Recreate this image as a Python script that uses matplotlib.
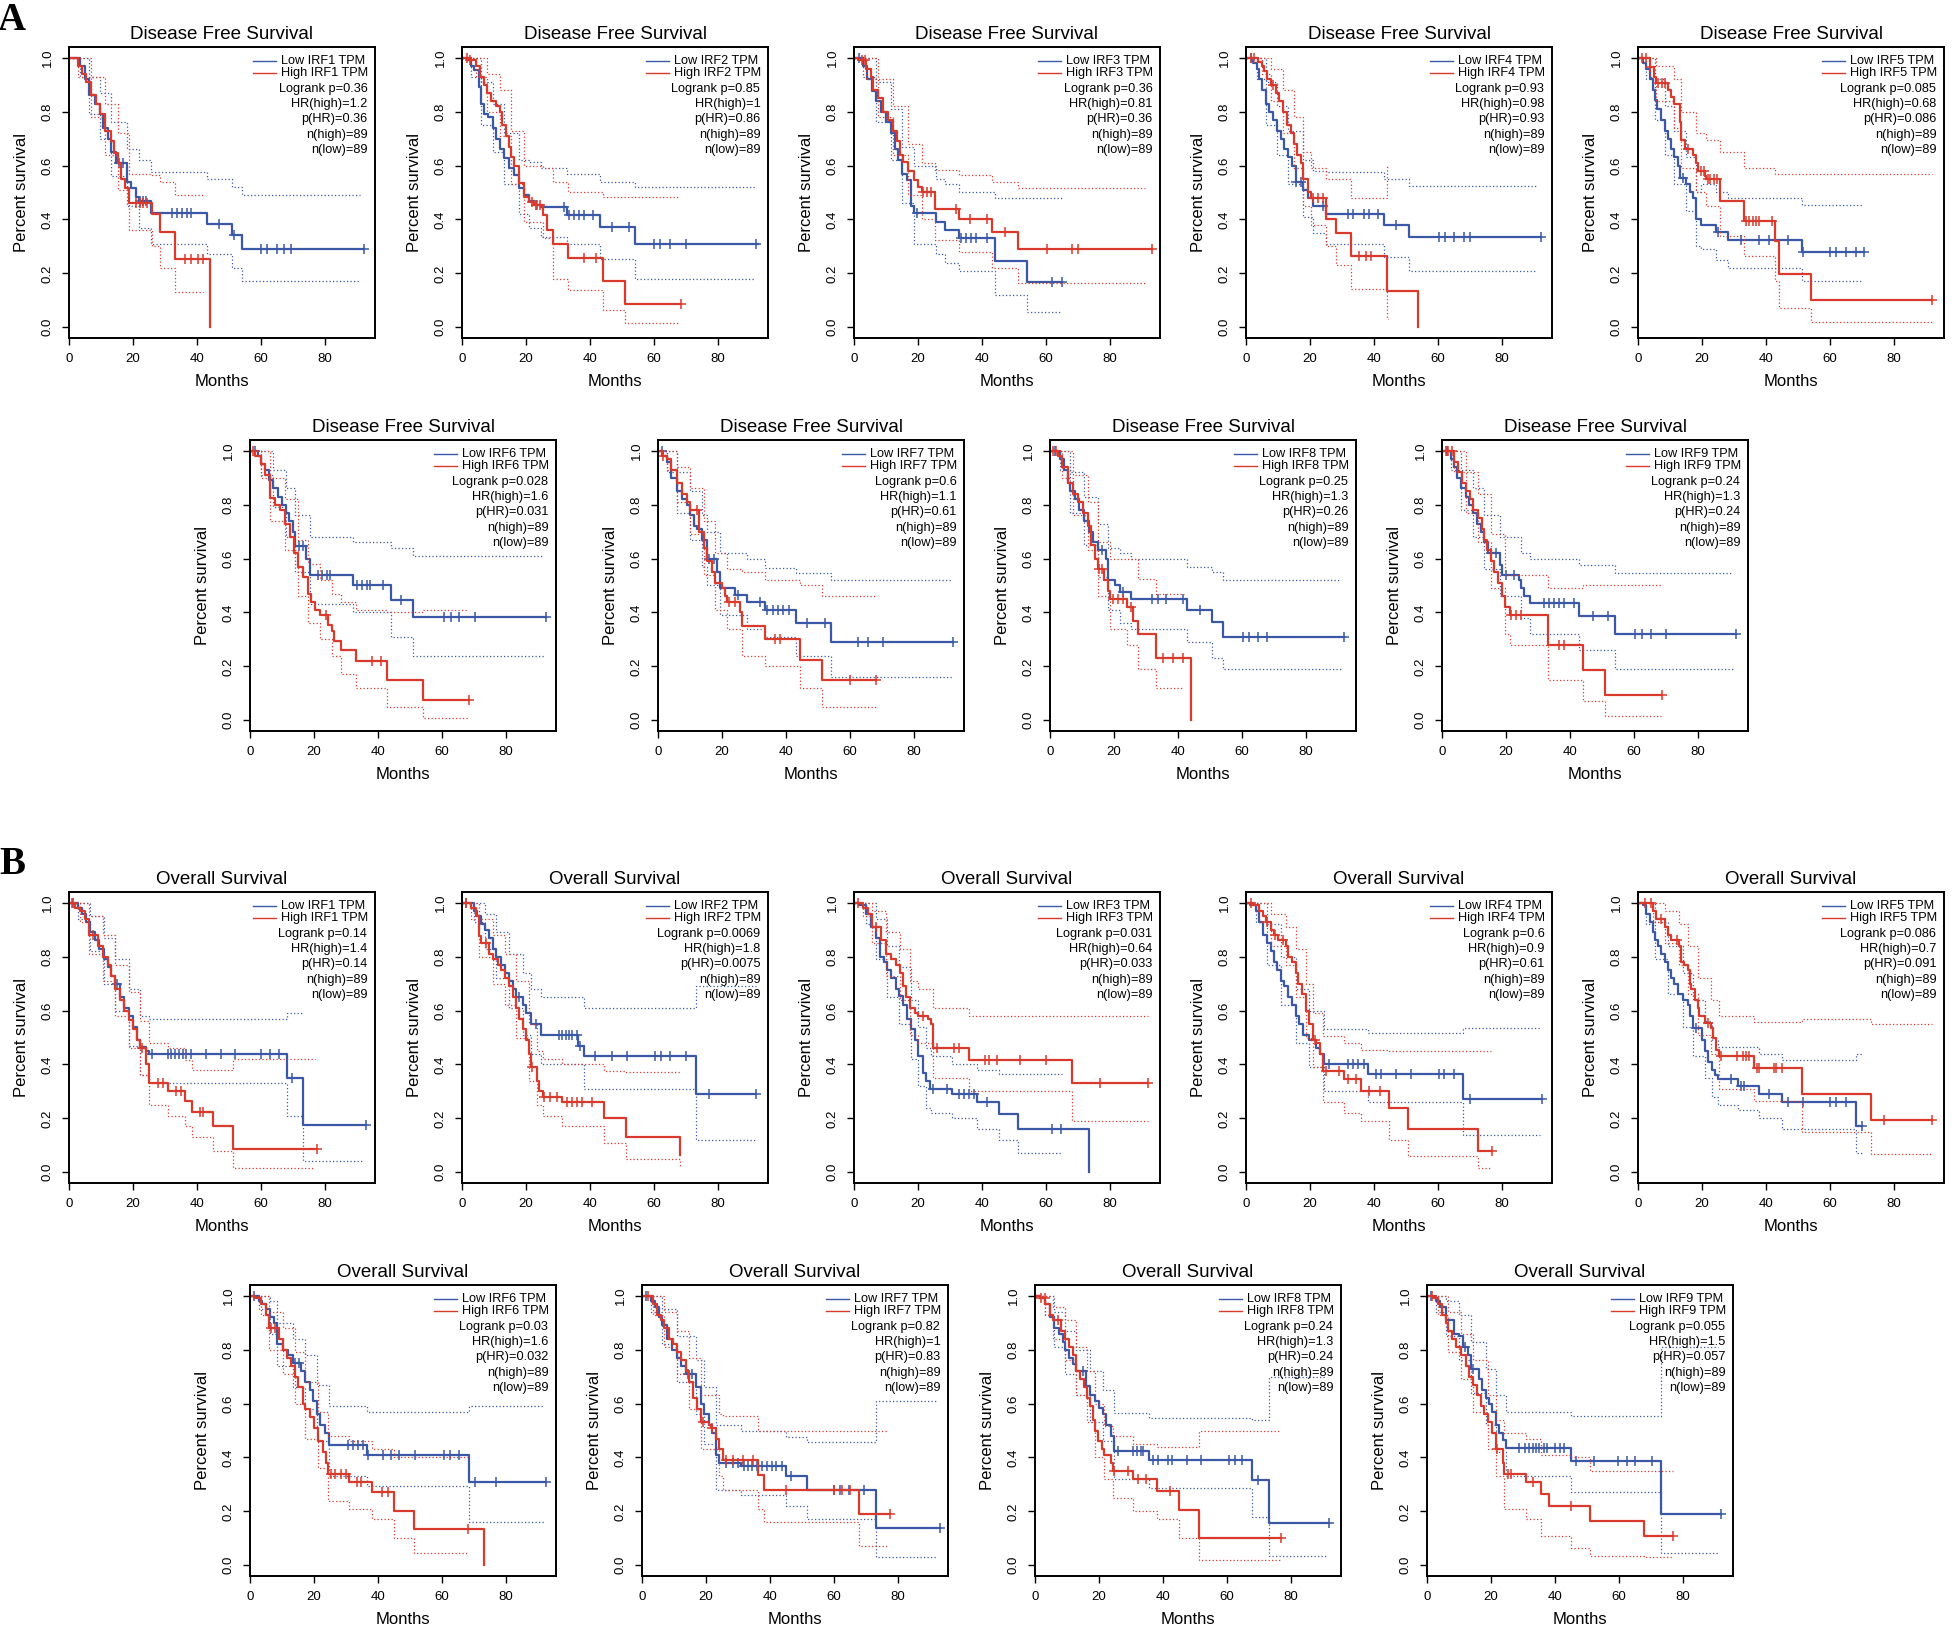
import numpy as np
import matplotlib
matplotlib.use('Agg')
import matplotlib.pyplot as plt
from matplotlib.lines import Line2D

nan = float('nan')

# ---------------- data ----------------
# each curve: (month, survival); CI: (month, lower, upper); censor months
A1_LOW = [(0,1),(3.5,.97),(5,.92),(6.3,.86),(8.2,.83),(9.7,.79),(10.5,.74),(12.1,.70),(13.2,.65),(14.8,.61),(18.2,.54),(19.5,.515),(20.8,.485),(22,.47),(25.5,.423),(43.1,.382),(50.9,.342),(54.1,.29),(92.3,.29)]
A1_LOW_CI = [(0,1,1),(3.5,.93,1),(6.3,.79,.93),(9.7,.70,.87),(13.2,.56,.76),(18.2,.45,.66),(22,.37,.62),(25.5,.31,.575),(43.1,.27,.55),(50.9,.22,.52),(54.1,.17,.49),(91,.17,.49)]
A1_LOW_CENS = [15.7,17,22.3,23.1,23.9,32.1,33.6,35.2,36.8,38,47,51.6,60.1,62,65.1,67.3,69.5,92.3]
A1_HIGH = [(0,1),(2.7,.97),(4.2,.94),(5.3,.91),(6.9,.86),(8.5,.83),(9.7,.79),(11.3,.73),(13.2,.69),(14.2,.645),(15.4,.61),(16.4,.55),(17.6,.515),(18.9,.46),(26,.42),(28.3,.355),(33,.252),(44,0)]
A1_HIGH_CI = [(0,1,1),(2.7,.93,1),(6.9,.78,.93),(11.3,.64,.83),(15.4,.51,.72),(18.9,.36,.57),(26,.30,.565),(28.3,.22,.54),(33,.13,.49),(42,.13,.49)]
A1_HIGH_CENS = [20.8,22.3,23.1,24.5,36.2,38.1,40.4,42]

A2_LOW = [(0,1),(2.8,.97),(3.9,.954),(5.2,.89),(6,.83),(6.8,.79),(8,.78),(9.6,.74),(10.7,.70),(11.8,.66),(13,.627),(14.6,.59),(16.2,.565),(17.8,.515),(19.3,.49),(20.9,.47),(22.5,.455),(24.8,.445),(32.7,.417),(43,.372),(54,.309),(92.5,.309)]
A2_LOW_CI = [(0,1,1),(2.8,.93,1),(6,.75,.91),(9.6,.65,.83),(13,.53,.72),(17.8,.42,.62),(20.9,.37,.614),(24.8,.336,.59),(32.7,.31,.57),(43,.255,.54),(54,.18,.52),(91.5,.18,.52)]
A2_LOW_CENS = [23,31.9,33.5,35,36.5,38,41,47,52.2,60,62,65,70,92]
A2_HIGH = [(0,1),(2,.99),(4.4,.97),(5.5,.93),(6.8,.90),(7.7,.87),(9.1,.84),(10.7,.82),(11.8,.80),(12.6,.75),(13.8,.71),(14.6,.67),(15.4,.63),(16.2,.60),(17.8,.534),(19.3,.485),(20.9,.466),(22.5,.455),(25.3,.417),(26.4,.36),(28.3,.31),(33,.258),(44,.173),(50.8,.088),(68.4,.088)]
A2_HIGH_CI = [(0,1,1),(4.4,.93,1),(7.7,.80,.94),(11.8,.71,.88),(15.4,.53,.73),(19.3,.39,.60),(25.3,.33,.59),(28.3,.18,.54),(33,.137,.50),(44,.064,.485),(50.8,.015,.485),(68,.015,.485)]
A2_HIGH_CENS = [1.5,2.5,22,23.5,24.5,38.1,42,68.4]

A3_LOW = [(0,1),(2.8,.97),(4.1,.92),(5.5,.875),(6.8,.84),(8.3,.80),(9.9,.76),(11.5,.72),(12.7,.66),(13.8,.62),(14.9,.57),(16.5,.545),(17.8,.45),(18.7,.425),(25.6,.39),(28.5,.36),(32.7,.33),(44.2,.246),(54.2,.166),(65,.166)]
A3_LOW_CI = [(0,1,1),(2.8,.93,1),(6.8,.76,.91),(11.5,.62,.81),(14.9,.46,.67),(18.7,.31,.60),(25.6,.27,.55),(28.5,.24,.53),(32.7,.21,.50),(44.2,.12,.48),(54.2,.055,.48),(65,.055,.48)]
A3_LOW_CENS = [1.5,19.7,33.5,35,36.5,38,41.4,62,65]
A3_HIGH = [(0,1),(1.3,.99),(3.6,.96),(5.2,.93),(6,.88),(7.5,.85),(9.1,.80),(10.7,.77),(12.3,.73),(13.4,.69),(14.3,.64),(15.4,.615),(17,.58),(18.6,.545),(20.1,.52),(21.2,.50),(25.2,.44),(32.9,.40),(43.2,.355),(51.3,.29),(93,.29)]
A3_HIGH_CI = [(0,1,1),(3.6,.92,1),(7.5,.78,.92),(12.3,.64,.82),(17,.49,.68),(21.2,.40,.61),(25.2,.325,.585),(32.9,.28,.565),(43.2,.22,.54),(51.3,.165,.515),(91,.165,.515)]
A3_HIGH_CENS = [2.5,3.5,21.7,22.8,24,31.9,36.2,41.4,47.2,60.2,68.1,70,93]

A4_LOW = [(0,1),(2.2,.98),(3.3,.96),(4.1,.92),(5,.88),(6.1,.83),(7.2,.80),(8.5,.77),(9.7,.73),(10.8,.70),(11.9,.66),(13.2,.63),(14.5,.60),(15.6,.54),(17.9,.51),(19.5,.48),(21,.45),(25,.42),(43,.38),(51,.333),(92.1,.333)]
A4_LOW_CI = [(0,1,1),(3.3,.92,1),(6.1,.75,.91),(9.7,.64,.82),(13.2,.53,.73),(17.9,.41,.62),(21,.35,.58),(25,.31,.575),(43,.26,.55),(51,.21,.525),(91,.21,.525)]
A4_LOW_CENS = [1.5,15.6,17.1,24,32,33.5,36.8,38.4,41.2,47,60.4,62.3,65.1,68.2,70.1,92.1]
A4_HIGH = [(0,1),(3.8,.985),(4.9,.97),(5.7,.95),(6.6,.92),(7.7,.90),(9.3,.87),(10.4,.84),(11.6,.80),(12.7,.75),(14,.72),(15.1,.68),(16,.64),(17.1,.61),(17.9,.55),(19.5,.50),(20.3,.48),(25,.40),(28.1,.35),(32.9,.265),(43.9,.133),(53.8,0)]
A4_HIGH_CI = [(0,1,1),(4.9,.94,1),(7.7,.84,.96),(11.6,.72,.88),(15.1,.59,.78),(17.9,.45,.65),(20.3,.38,.59),(25,.30,.55),(28.1,.23,.55),(32.9,.14,.48),(43.9,.03,.595),(44.3,.03,.595)]
A4_HIGH_CENS = [1.5,2.5,8.3,21,22.6,24.2,35.2,37.5,39.2]

A5_LOW = [(0,1),(1.6,.98),(2.6,.96),(3.9,.92),(4.7,.88),(5.4,.845),(6,.81),(7.3,.77),(8.3,.73),(9.4,.70),(10.4,.66),(11.4,.63),(12.5,.60),(13,.555),(15.1,.53),(16.1,.50),(17.1,.48),(18,.40),(19.7,.38),(24.4,.355),(28.1,.325),(51.1,.278),(70.6,.278)]
A5_LOW_CI = [(0,1,1),(2.6,.92,1),(5.4,.77,.92),(8.3,.64,.82),(11.4,.53,.73),(15.1,.43,.63),(18,.30,.50),(19.7,.29,.53),(24.4,.25,.50),(28.1,.22,.48),(51.1,.17,.455),(70,.17,.455)]
A5_LOW_CENS = [14,24.9,32.2,37.9,41,47,51.7,60,61.8,64.9,68,70.6]
A5_HIGH = [(0,1),(3.6,.965),(5,.93),(5.7,.905),(9.4,.88),(10.4,.855),(11.4,.83),(13,.76),(13.5,.695),(14.8,.66),(17.1,.64),(18,.61),(18.7,.58),(20.8,.56),(21.3,.55),(25.5,.47),(33,.395),(42.8,.32),(44.2,.198),(54,.10),(92,.10)]
A5_HIGH_CI = [(0,1,1),(3.6,.93,1),(5.7,.84,.97),(11.4,.74,.92),(13.5,.59,.80),(18,.50,.72),(21.3,.45,.695),(25.5,.34,.65),(33,.265,.59),(42.8,.17,.567),(44.2,.07,.567),(54,.02,.567),(92,.02,.567)]
A5_HIGH_CENS = [1.4,2.5,3.6,6.4,7.5,8.5,15.6,19.7,20.6,21.8,22.6,23.7,24.7,33.8,34.8,35.8,36.8,37.9,42,92]

A6_LOW = [(0,1),(2.4,.98),(3.5,.95),(4.7,.93),(6,.89),(7.2,.86),(8.6,.83),(9.9,.80),(11.3,.77),(12.3,.74),(13.4,.70),(14.2,.645),(17.6,.60),(18.9,.54),(32.2,.50),(44,.445),(50.9,.383),(92.5,.383)]
A6_LOW_CI = [(0,1,1),(3.5,.91,1),(7.2,.79,.93),(11.3,.68,.86),(14.2,.55,.76),(18.9,.43,.68),(32.2,.40,.66),(44,.31,.64),(50.9,.24,.61),(92,.24,.61)]
A6_LOW_CENS = [1.5,15.3,16.5,21.2,22.6,24,25,33.3,35,36.5,37.4,41.7,47.2,60.5,62.9,65.3,70.4,92.5]
A6_HIGH = [(0,1),(1.6,.98),(3.5,.95),(4.7,.91),(6.3,.825),(7.9,.80),(9.4,.78),(11,.73),(12.6,.68),(13.8,.62),(14.9,.57),(16.5,.53),(18.1,.47),(19.2,.44),(20.4,.41),(22,.39),(24.4,.355),(25.5,.33),(26.3,.295),(28.3,.26),(33,.22),(42.9,.148),(54.1,.075),(68.4,.075)]
A6_HIGH_CI = [(0,1,1),(3.5,.90,1),(6.3,.74,.90),(11,.63,.82),(14.9,.46,.67),(18.1,.36,.58),(22,.30,.52),(25.5,.24,.47),(28.3,.17,.44),(33,.12,.41),(42.9,.05,.40),(54.1,.01,.41),(68,.01,.41)]
A6_HIGH_CENS = [1,23.6,38.2,40.9,68.4]

A7_LOW = [(0,1),(1.6,.98),(2.7,.96),(4.2,.90),(5.8,.85),(7.4,.82),(9,.80),(10.1,.76),(11.3,.72),(12.1,.71),(13.7,.67),(15.3,.60),(18.4,.55),(19.5,.49),(23.9,.465),(27.8,.44),(33.3,.41),(43.1,.36),(54.2,.29),(92.3,.29)]
A7_LOW_CI = [(0,1,1),(2.7,.92,1),(5.8,.77,.92),(10.1,.67,.85),(13.7,.57,.76),(15.3,.50,.70),(19.5,.39,.62),(27.8,.34,.60),(33.3,.31,.565),(43.1,.24,.545),(54.2,.16,.52),(92,.16,.52)]
A7_LOW_CENS = [1.3,16,17.6,25,31.8,34.1,36,37.6,39.2,41,46.7,52.2,62.4,65.6,70.3,92.3]
A7_HIGH = [(0,1),(1.1,.98),(2.7,.97),(4.2,.93),(5.8,.88),(7.4,.84),(9,.81),(10.1,.78),(12.9,.70),(14.5,.64),(15.3,.59),(16.8,.55),(17.9,.51),(20,.49),(20.8,.46),(21.5,.44),(25.5,.40),(26.3,.35),(33.3,.30),(44.3,.225),(51.1,.15),(68.2,.15)]
A7_HIGH_CI = [(0,1,1),(2.7,.93,1),(5.8,.81,.94),(10.1,.69,.86),(14.5,.54,.74),(17.9,.41,.62),(21.5,.34,.56),(26.3,.24,.55),(33.3,.20,.52),(44.3,.12,.50),(51.1,.05,.46),(68,.05,.46)]
A7_HIGH_CENS = [1.5,12.1,22.3,23.9,36.5,38,60.1,68.2]

A8_LOW = [(0,1),(3.1,.97),(4.4,.93),(5.5,.88),(6.3,.85),(7.9,.82),(9.1,.78),(10.7,.74),(12.3,.70),(13.4,.66),(14.9,.63),(17.6,.60),(18.1,.52),(20.4,.50),(22,.475),(25.2,.45),(42.8,.41),(50.6,.365),(54.2,.31),(92,.31)]
A8_LOW_CI = [(0,1,1),(3.1,.93,1),(6.3,.77,.92),(10.7,.65,.83),(14.9,.53,.73),(18.1,.41,.64),(22,.36,.62),(25.2,.34,.60),(42.8,.29,.57),(50.6,.23,.55),(54.2,.19,.52),(91,.19,.52)]
A8_LOW_CENS = [1.6,16.2,22.8,31.8,33.8,36.2,41.7,46.9,60.2,62.1,64.9,67.9,92]
A8_HIGH = [(0,1),(2.4,.98),(3.9,.94),(5.5,.88),(7.1,.84),(8.6,.81),(10.2,.77),(11.8,.72),(12.9,.65),(14.2,.60),(14.9,.56),(17,.52),(18.1,.48),(18.9,.45),(23.9,.42),(25.9,.37),(27.5,.32),(33,.23),(44,0)]
A8_HIGH_CI = [(0,1,1),(3.9,.90,1),(7.1,.76,.91),(11.8,.63,.81),(14.9,.46,.66),(18.9,.34,.60),(23.9,.28,.60),(27.5,.19,.525),(33,.12,.47),(42,.12,.47)]
A8_HIGH_CENS = [1,2,15.4,16.2,19.7,21.2,22.8,25.2,35.4,38.5,41.7]

A9_LOW = [(0,1),(2.7,.97),(3.8,.94),(4.7,.90),(5.8,.86),(7.4,.83),(8.5,.80),(9.8,.77),(11,.73),(12.1,.70),(13.2,.66),(14.5,.62),(18,.575),(18.9,.54),(23.9,.52),(24.7,.49),(25.5,.46),(27.4,.435),(42.8,.385),(53.9,.32),(92,.32)]
A9_LOW_CI = [(0,1,1),(2.7,.93,1),(5.8,.78,.93),(9.8,.68,.86),(13.2,.56,.76),(18,.46,.68),(24.7,.38,.62),(27.4,.32,.60),(42.8,.26,.575),(53.9,.19,.545),(91,.19,.545)]
A9_LOW_CENS = [1.6,15.3,16.9,20,22.4,31.8,33.4,35,36.5,38.1,41.3,47.1,52,60.2,62.5,65.2,70,92]
A9_HIGH = [(0,1),(3.8,.96),(5,.92),(6.3,.88),(7.4,.85),(8.7,.82),(9.8,.78),(11.3,.75),(12.6,.71),(13.2,.67),(14.2,.63),(15.3,.59),(16.4,.55),(17.6,.51),(18.6,.46),(19.7,.42),(21.1,.39),(33.1,.28),(43.9,.185),(51,.093),(68.8,.093)]
A9_HIGH_CI = [(0,1,1),(3.8,.92,1),(7.4,.77,.92),(11.3,.66,.84),(15.3,.49,.69),(19.7,.32,.54),(21.1,.28,.54),(33.1,.15,.49),(43.9,.07,.50),(51,.015,.50),(68.5,.015,.50)]
A9_HIGH_CENS = [1.1,2,3,21.6,23.2,24.7,36.5,38.1,68.8]

B1_LOW = [(0,1),(2.7,.98),(4.2,.96),(5.3,.93),(6.6,.89),(8.2,.86),(9.4,.83),(10.8,.79),(12.1,.76),(13.2,.73),(14.5,.70),(16,.65),(17.3,.61),(18.6,.58),(20,.54),(21.1,.49),(22.3,.465),(23.9,.45),(25,.44),(68.2,.35),(73.1,.175),(92.8,.175)]
B1_LOW_CI = [(0,1,1),(2.7,.94,1),(6.6,.82,.95),(10.8,.70,.87),(14.5,.60,.79),(18.6,.47,.68),(22.3,.36,.58),(25,.33,.57),(68.2,.21,.59),(73.1,.04,nan),(92,.04,nan)]
B1_LOW_CENS = [1.1,14.9,25.8,31,32,33,34.4,35.5,36.5,38,42.8,47.5,51.9,60,62.9,65.6,69.8,92.8]
B1_HIGH = [(0,1),(1.9,.98),(3.5,.97),(5,.94),(6.3,.88),(9,.84),(10.5,.80),(12.1,.77),(13.2,.73),(14.5,.68),(16,.64),(17.3,.60),(18.6,.565),(20,.53),(21.1,.49),(22.3,.46),(23.9,.40),(25,.33),(31,.30),(36.2,.265),(38.4,.225),(45.1,.17),(51.1,.085),(77.4,.085)]
B1_HIGH_CI = [(0,1,1),(3.5,.93,1),(6.3,.81,.95),(10.5,.71,.88),(14.5,.58,.77),(18.6,.46,.67),(22.3,.36,.56),(25,.25,.48),(31,.21,.46),(36.2,.17,.415),(38.4,.13,.38),(45.1,.08,.38),(51.1,.015,.42),(77,.015,.42)]
B1_HIGH_CENS = [1,7.4,22.8,27.8,29.4,33.3,34.9,40.9,42,77.4]

B2_LOW = [(0,1),(3.6,.97),(4.7,.95),(6,.92),(7.1,.90),(8.3,.87),(9.6,.83),(10.7,.80),(12.3,.77),(13.5,.74),(14.6,.71),(15.9,.68),(17,.65),(19,.62),(20.1,.59),(21.7,.55),(24.8,.51),(36.3,.47),(38.2,.43),(73.1,.29),(92,.29)]
B2_LOW_CI = [(0,1,1),(3.6,.93,1),(7.1,.83,.96),(10.7,.72,.89),(14.6,.61,.81),(19,.51,.74),(21.7,.44,.68),(24.8,.40,.65),(38.2,.31,.61),(73.1,.12,.69),(92,.12,.69)]
B2_LOW_CENS = [1.3,17.8,23.1,30.3,31.3,32.5,33.5,34.5,35.8,37,41.4,46.9,51.6,60.2,62.1,65,70,77.2,92]
B2_HIGH = [(0,1),(2.8,.98),(4.4,.95),(5.2,.875),(6,.85),(8.3,.81),(9.6,.79),(11.2,.77),(12.3,.75),(13.4,.72),(14.6,.69),(15.9,.65),(17,.61),(17.8,.57),(19,.53),(20.1,.49),(20.9,.44),(21.7,.39),(23.3,.34),(24.1,.30),(25.3,.28),(31.1,.26),(44.5,.20),(51.1,.13),(68.1,.065)]
B2_HIGH_CI = [(0,1,1),(2.8,.94,1),(5.2,.80,.94),(9.6,.70,.88),(13.4,.62,.81),(17,.50,.71),(20.9,.34,.55),(23.3,.25,.45),(25.3,.21,.42),(31.1,.17,.40),(44.5,.11,.375),(51.1,.05,.373),(68,.02,.373)]
B2_HIGH_CENS = [1.3,7.5,22,25.6,27.5,29.7,32.7,34.3,35.8,37.4,40.6]

B3_LOW = [(0,1),(1.7,.99),(3.6,.96),(5.2,.91),(6.8,.87),(8,.80),(9.3,.78),(10.4,.75),(11.5,.72),(13.1,.68),(14.2,.655),(15.4,.62),(16.5,.57),(17.8,.53),(19,.49),(20.1,.43),(21.7,.37),(22.5,.34),(23.7,.31),(30.7,.29),(38.5,.26),(45.3,.215),(51.3,.16),(73.3,0)]
B3_LOW_CI = [(0,1,1),(3.6,.92,1),(6.8,.79,.94),(10.4,.65,.84),(14.2,.55,.76),(17.8,.42,.64),(20.1,.32,.54),(22.5,.24,.46),(24,.22,.43),(30.7,.20,.40),(38.5,.16,.38),(45.3,.12,.363),(51.3,.07,.363),(65,.07,.363)]
B3_LOW_CENS = [24.8,29.1,32.7,34.3,35.8,37.4,41.7,61.8,64.6]
B3_HIGH = [(0,1),(2.8,.98),(4.4,.96),(5.5,.91),(8.3,.86),(9.9,.81),(11.5,.79),(13.1,.77),(14.3,.74),(15.4,.69),(16.2,.65),(17.5,.61),(19,.59),(20.1,.58),(23,.57),(24.1,.55),(24.8,.46),(35.8,.415),(68.1,.33),(92,.33)]
B3_HIGH_CI = [(0,1,1),(2.8,.95,1),(5.5,.85,.97),(9.9,.73,.89),(14.3,.64,.83),(17.5,.51,.71),(20.1,.48,.68),(24.8,.35,.61),(35.8,.30,.58),(68.1,.19,.58),(92,.19,.58)]
B3_HIGH_CENS = [1.3,6.8,21.7,25.9,31.1,32.7,41,42.2,44.8,51.9,59.9,77,92]

B4_LOW = [(0,1),(1.4,.99),(3,.97),(4.1,.93),(5.3,.88),(6.6,.85),(7.7,.82),(8.8,.78),(9.7,.75),(10.8,.71),(11.9,.69),(13.2,.65),(14.5,.62),(15.6,.58),(16.7,.55),(17.9,.51),(19.8,.49),(21.9,.46),(23,.44),(24.5,.40),(38.1,.365),(67.9,.27),(92.6,.27)]
B4_LOW_CI = [(0,1,1),(3,.93,1),(6.6,.77,.92),(10.8,.62,.80),(15.6,.48,.68),(19.8,.39,.60),(24.5,.30,.53),(38.1,.26,.515),(67.9,.14,.535),(92,.14,.535)]
B4_LOW_CENS = [25.8,31.8,33.3,34.9,36.8,40.7,42.3,47,51.7,60.4,62,65.1,70.1,92.6]
B4_HIGH = [(0,1),(2.2,.99),(4.1,.97),(5.3,.95),(6.1,.93),(7.7,.90),(8.8,.88),(10.1,.86),(12.4,.84),(13.2,.80),(14.5,.78),(15.6,.74),(16.4,.70),(17.6,.66),(18.7,.60),(19.8,.55),(20.8,.49),(21.9,.48),(23,.44),(23.9,.375),(30.5,.345),(36,.30),(44.7,.24),(50.6,.16),(72.6,.08),(76.9,.08)]
B4_HIGH_CI = [(0,1,1),(4.1,.93,1),(7.7,.84,.96),(12.4,.77,.91),(15.6,.65,.83),(18.7,.50,.70),(20.8,.39,.59),(23.9,.26,.505),(30.5,.22,.48),(36,.19,.455),(44.7,.12,.45),(50.6,.06,.45),(72.6,.015,.45),(76.5,.015,.45)]
B4_HIGH_CENS = [1.5,6.6,9.1,11.6,21.5,25,28.9,32,34.4,38.4,42,76.9]

B5_LOW = [(0,1),(1.6,.99),(2.6,.96),(3.9,.93),(4.7,.89),(5.4,.86),(6.2,.84),(7.3,.81),(8.3,.78),(9.4,.75),(10.4,.72),(11.4,.70),(12.5,.66),(14,.64),(15.6,.62),(16.1,.58),(17.1,.535),(19.9,.49),(20.8,.45),(22,.41),(23.1,.38),(24.1,.36),(25.1,.345),(31.2,.32),(37.9,.29),(45,.26),(68,.17),(70.1,.17)]
B5_LOW_CI = [(0,1,1),(2.6,.92,1),(5.4,.79,.93),(9.4,.66,.84),(14,.54,.74),(17.1,.43,.64),(20.8,.35,.56),(23.1,.28,.49),(25.1,.25,.466),(31.2,.23,.466),(37.9,.20,.44),(45,.16,.416),(68,.07,.44),(70,.07,.44)]
B5_LOW_CENS = [18,29.1,32.2,33.2,41,46.8,51.7,60,61.8,64.9,70.1]
B5_HIGH = [(0,1),(4.7,.97),(5.7,.94),(8.3,.91),(9.4,.88),(10.4,.86),(12.8,.84),(13.3,.78),(14.5,.77),(15.6,.75),(16.1,.70),(16.6,.68),(17.7,.64),(18.7,.61),(19.2,.58),(20.8,.555),(22.9,.535),(23.4,.50),(24.4,.455),(25.2,.43),(36.2,.385),(51.1,.29),(72.9,.195),(92,.195)]
B5_HIGH_CI = [(0,1,1),(4.7,.93,1),(8.3,.85,.97),(12.8,.77,.92),(15.6,.66,.84),(18.7,.51,.72),(22.9,.44,.64),(25.2,.31,.58),(36.2,.265,.556),(51.1,.15,.57),(72.9,.067,.55),(92,.067,.55)]
B5_HIGH_CENS = [2.1,4.2,7.3,12.1,22,26,31,32.7,33.8,34.8,37.2,37.9,42.4,43.1,44.9,76.9,92]

B6_LOW = [(0,1),(2.8,.98),(3.9,.97),(5,.95),(6.3,.92),(7.5,.90),(8.3,.82),(10.2,.80),(11.8,.78),(13.4,.75),(16,.72),(17.3,.68),(18.6,.65),(19.7,.61),(20.8,.56),(22,.52),(23.3,.49),(24.8,.445),(36.5,.41),(68.4,.31),(92.5,.31)]
B6_LOW_CI = [(0,1,1),(2.8,.95,1),(6.3,.86,.98),(8.3,.74,.90),(13.4,.66,.84),(17.3,.58,.78),(20.8,.46,.67),(24.8,.33,.59),(36.5,.295,.57),(68.4,.16,.59),(92,.16,.59)]
B6_LOW_CENS = [1.3,14.2,15.3,30.7,32.2,33.7,35.4,37,41.7,44,46.4,51.6,60.5,62.6,65.3,70.4,77,92.5]
B6_HIGH = [(0,1),(1.6,.99),(3.5,.97),(5,.93),(6,.88),(9.1,.84),(10.2,.80),(11.5,.77),(12.9,.74),(14.2,.70),(14.9,.66),(16.5,.60),(17.3,.58),(18.6,.55),(20.1,.51),(21.2,.46),(22.8,.42),(23.6,.38),(24.4,.34),(31,.31),(38,.27),(45.1,.20),(51.1,.135),(73.1,0)]
B6_HIGH_CI = [(0,1,1),(3.5,.93,1),(6,.80,.94),(10.2,.71,.88),(14.2,.60,.79),(17.3,.47,.68),(21.2,.36,.57),(24.4,.24,.48),(31,.21,.46),(38,.17,.43),(45.1,.10,.40),(51.1,.045,.40),(68,.045,.40)]
B6_HIGH_CENS = [6.6,7.9,25.2,26.5,28.3,29.9,33.3,34.6,41.2,43.2,68.1]

B7_LOW = [(0,1),(2.7,.98),(4.2,.96),(5.3,.92),(6.3,.89),(7.9,.84),(9.4,.80),(11,.77),(12.1,.74),(13.7,.71),(16.8,.66),(18.4,.60),(19.5,.56),(20.8,.52),(22,.49),(23.1,.41),(24.2,.38),(31,.37),(45.1,.33),(51.4,.28),(73.1,.14),(93,.14)]
B7_LOW_CI = [(0,1,1),(2.7,.94,1),(6.3,.82,.95),(11,.68,.85),(16.8,.56,.76),(19.5,.45,.66),(23.1,.28,.52),(31,.26,.50),(45.1,.22,.475),(51.4,.17,.457),(73.1,.03,.61),(92,.03,.61)]
B7_LOW_CENS = [1.1,14.5,15.7,26.3,28.3,30,31.8,33,34.5,35.8,37.5,39,40.5,42,43.6,46.7,60,62,64.6,69.5,93]
B7_HIGH = [(0,1),(3.5,.97),(4.7,.93),(5.8,.91),(6.9,.88),(8.5,.84),(9.7,.82),(11,.79),(12.1,.76),(13.7,.72),(14.8,.68),(16,.62),(17.3,.58),(18.4,.53),(20.8,.52),(21.5,.51),(23.1,.47),(24.2,.43),(25.2,.39),(36.2,.335),(38.1,.28),(67.9,.19),(77.4,.19)]
B7_HIGH_CI = [(0,1,1),(3.5,.93,1),(6.9,.81,.94),(11,.71,.87),(14.8,.58,.77),(18.4,.43,.63),(24.2,.33,.56),(25.2,.28,.555),(36.2,.21,.50),(38.1,.16,.50),(67.9,.07,.50),(77,.07,.50)]
B7_HIGH_CENS = [1.9,19.2,22,26.3,28.3,31.4,34.6,45.1,60,62.6,65,77.4]

B8_LOW = [(0,1),(1.6,.99),(3.1,.97),(4.7,.92),(6,.88),(7.5,.86),(8.6,.83),(9.4,.80),(10.7,.77),(11.8,.745),(12.9,.72),(16,.665),(17.3,.63),(18.9,.61),(20.1,.585),(21.2,.56),(22.3,.52),(23.6,.48),(24.8,.425),(35.7,.39),(67.9,.315),(73.1,.155),(92,.155)]
B8_LOW_CI = [(0,1,1),(3.1,.93,1),(6,.81,.94),(9.4,.71,.87),(12.9,.63,.80),(17.3,.53,.72),(21.2,.46,.65),(24.8,.32,.565),(35.7,.285,.545),(67.9,.18,.54),(73.1,.035,.70),(91,.035,.70)]
B8_LOW_CENS = [14.9,25.9,30.7,31.9,33.2,33.8,37,38.4,41.5,42.8,47.5,51.9,60.5,62.6,64.8,69.7,92]
B8_HIGH = [(0,1),(1.6,.99),(3.1,.97),(4.7,.93),(5.5,.91),(8.2,.87),(9.4,.84),(10.7,.81),(11.8,.78),(12.9,.72),(14.2,.69),(15.4,.66),(16.2,.62),(17.3,.59),(18.1,.54),(18.9,.50),(19.7,.46),(20.8,.43),(21.7,.41),(23.6,.38),(24.4,.35),(30.7,.32),(38,.275),(45,.205),(51.1,.10),(77,.10)]
B8_HIGH_CI = [(0,1,1),(3.1,.93,1),(5.5,.84,.96),(9.4,.76,.91),(12.9,.63,.81),(16.2,.53,.72),(18.9,.40,.60),(21.7,.32,.515),(24.4,.25,.48),(30.7,.20,.45),(38,.17,.437),(45,.10,.44),(51.1,.02,.50),(77,.02,.50)]
B8_HIGH_CENS = [2,3,7.1,24.8,29.1,32.2,34.6,42.1,77]

B9_LOW = [(0,1),(2.7,.98),(4.2,.96),(5.8,.91),(8.5,.86),(10.1,.85),(11.3,.81),(12.9,.78),(13.7,.73),(16.4,.69),(17.3,.65),(18.4,.62),(19.5,.60),(20.4,.57),(21.5,.52),(22.6,.49),(23.6,.465),(24.7,.435),(45.1,.385),(73,.19),(92,.19)]
B9_LOW_CI = [(0,1,1),(2.7,.94,1),(5.8,.85,.98),(10.1,.76,.93),(13.7,.64,.83),(18.4,.52,.73),(21.5,.42,.63),(24.7,.33,.57),(45.1,.27,.555),(73,.045,.81),(91,.045,.81)]
B9_LOW_CENS = [1.1,12,14.5,28.6,30.5,32,33,34,35,36.5,37.5,40,41.5,42.8,46.7,52.2,59.7,62.4,65.1,70.3,92]
B9_HIGH = [(0,1),(1.9,.99),(3.5,.97),(4.7,.93),(5.8,.90),(6.6,.87),(7.9,.84),(9,.81),(10.5,.78),(12.1,.74),(13.2,.70),(14.5,.67),(15.7,.63),(16.8,.59),(17.9,.56),(19.2,.53),(20.4,.49),(21.5,.43),(23.6,.38),(24.2,.34),(31,.31),(35.7,.265),(38,.22),(50.9,.165),(67.9,.11),(77,.11)]
B9_HIGH_CI = [(0,1,1),(3.5,.93,1),(6.6,.79,.94),(10.5,.69,.86),(14.5,.57,.76),(19.2,.43,.63),(21.5,.33,.54),(24.2,.21,.49),(31,.17,.47),(35.7,.11,.41),(45.1,.065,.40),(50.9,.035,.35),(67.9,.03,.35),(77,.03,.35)]
B9_HIGH_CENS = [1.5,22,25.2,26.3,33,45.1,77]

GENES = ['IRF1', 'IRF2', 'IRF3', 'IRF4', 'IRF5', 'IRF6', 'IRF7', 'IRF8', 'IRF9']
DFS_LOGRANK = ['0.36', '0.85', '0.36', '0.93', '0.085', '0.028', '0.6', '0.25', '0.24']
DFS_HR = ['1.2', '1', '0.81', '0.98', '0.68', '1.6', '1.1', '1.3', '1.3']
DFS_PHR = ['0.36', '0.86', '0.36', '0.93', '0.086', '0.031', '0.61', '0.26', '0.24']
OS_LOGRANK = ['0.14', '0.0069', '0.031', '0.6', '0.086', '0.03', '0.82', '0.24', '0.055']
OS_HR = ['1.4', '1.8', '0.64', '0.9', '0.7', '1.6', '1', '1.3', '1.5']
OS_PHR = ['0.14', '0.0075', '0.033', '0.61', '0.091', '0.032', '0.83', '0.24', '0.057']
N_HIGH = 89
N_LOW = 89

DFS_CURVES = [
    (A1_LOW, A1_LOW_CI, A1_LOW_CENS, A1_HIGH, A1_HIGH_CI, A1_HIGH_CENS),
    (A2_LOW, A2_LOW_CI, A2_LOW_CENS, A2_HIGH, A2_HIGH_CI, A2_HIGH_CENS),
    (A3_LOW, A3_LOW_CI, A3_LOW_CENS, A3_HIGH, A3_HIGH_CI, A3_HIGH_CENS),
    (A4_LOW, A4_LOW_CI, A4_LOW_CENS, A4_HIGH, A4_HIGH_CI, A4_HIGH_CENS),
    (A5_LOW, A5_LOW_CI, A5_LOW_CENS, A5_HIGH, A5_HIGH_CI, A5_HIGH_CENS),
    (A6_LOW, A6_LOW_CI, A6_LOW_CENS, A6_HIGH, A6_HIGH_CI, A6_HIGH_CENS),
    (A7_LOW, A7_LOW_CI, A7_LOW_CENS, A7_HIGH, A7_HIGH_CI, A7_HIGH_CENS),
    (A8_LOW, A8_LOW_CI, A8_LOW_CENS, A8_HIGH, A8_HIGH_CI, A8_HIGH_CENS),
    (A9_LOW, A9_LOW_CI, A9_LOW_CENS, A9_HIGH, A9_HIGH_CI, A9_HIGH_CENS),
]
OS_CURVES = [
    (B1_LOW, B1_LOW_CI, B1_LOW_CENS, B1_HIGH, B1_HIGH_CI, B1_HIGH_CENS),
    (B2_LOW, B2_LOW_CI, B2_LOW_CENS, B2_HIGH, B2_HIGH_CI, B2_HIGH_CENS),
    (B3_LOW, B3_LOW_CI, B3_LOW_CENS, B3_HIGH, B3_HIGH_CI, B3_HIGH_CENS),
    (B4_LOW, B4_LOW_CI, B4_LOW_CENS, B4_HIGH, B4_HIGH_CI, B4_HIGH_CENS),
    (B5_LOW, B5_LOW_CI, B5_LOW_CENS, B5_HIGH, B5_HIGH_CI, B5_HIGH_CENS),
    (B6_LOW, B6_LOW_CI, B6_LOW_CENS, B6_HIGH, B6_HIGH_CI, B6_HIGH_CENS),
    (B7_LOW, B7_LOW_CI, B7_LOW_CENS, B7_HIGH, B7_HIGH_CI, B7_HIGH_CENS),
    (B8_LOW, B8_LOW_CI, B8_LOW_CENS, B8_HIGH, B8_HIGH_CI, B8_HIGH_CENS),
    (B9_LOW, B9_LOW_CI, B9_LOW_CENS, B9_HIGH, B9_HIGH_CI, B9_HIGH_CENS),
]

BLUE = '#3a58a6'
RED = '#da3a2c'

W, H = 1952, 1626
plt.rcParams['font.family'] = ['Liberation Sans', 'DejaVu Sans']
fig = plt.figure(figsize=(W / 100, H / 100), dpi=100)

BOX_W, BOX_H = 306, 291
# pixel positions (left, top) of each plot box
DFS_POS = [(69, 47), (462, 47), (854, 47), (1246, 47), (1638, 47),
           (250, 440), (658, 440), (1050, 440), (1442, 440)]
OS_POS = [(69, 892), (462, 892), (854, 892), (1246, 892), (1638, 892),
          (250, 1285), (642, 1285), (1035, 1285), (1427, 1285)]


def km_at(curve, t):
    ts = [p[0] for p in curve]
    i = np.searchsorted(ts, t, side='right') - 1
    return curve[max(i, 0)][1]


def draw_panel(pos, title, gene, stats, curves):
    left, top = pos
    ax = fig.add_axes([left / W, 1 - (top + BOX_H) / H, BOX_W / W, BOX_H / H])
    low, low_ci, low_cens, high, high_ci, high_cens = curves
    for km, ci, cens, col in ((low, low_ci, low_cens, BLUE), (high, high_ci, high_cens, RED)):
        ct = [p[0] for p in ci]
        ax.step(ct, [p[1] for p in ci], where='post', color=col, lw=0.9, ls=(0, (1, 1.8)))
        ax.step(ct, [p[2] for p in ci], where='post', color=col, lw=0.9, ls=(0, (1, 1.8)))
        ax.step([p[0] for p in km], [p[1] for p in km], where='post', color=col, lw=1.6)
        ax.plot(cens, [km_at(km, c) for c in cens], ls='none', marker='+',
                color=col, ms=7.5, mew=1.1)

    ax.set_xlim(0, 95.6)
    ax.set_ylim(-0.04, 1.04)
    ax.set_xticks([0, 20, 40, 60, 80])
    ax.set_yticks([0, 0.2, 0.4, 0.6, 0.8, 1.0])
    ax.set_yticklabels(['0.0', '0.2', '0.4', '0.6', '0.8', '1.0'], rotation=90, va='center')
    ax.tick_params(direction='out', length=5, width=1.0, labelsize=9.5, pad=6, colors='black')
    for s in ax.spines.values():
        s.set_linewidth(1.4)
        s.set_color('black')

    ax.text(0.5, 1.042, title, transform=ax.transAxes, ha='center', va='center', fontsize=13.5)
    ax.text(-0.154, 0.5, 'Percent survival', transform=ax.transAxes, rotation=90,
            ha='center', va='center', fontsize=12)
    ax.text(0.5, -0.151, 'Months', transform=ax.transAxes, ha='center', va='center', fontsize=12)

    # legend
    for y, col, lab in ((0.953, BLUE, 'Low %s TPM' % gene), (0.910, RED, 'High %s TPM' % gene)):
        ax.add_line(Line2D([0.60, 0.678], [y, y], transform=ax.transAxes, color=col, lw=1.0))
        ax.text(0.694, y, lab, transform=ax.transAxes, ha='left', va='center', fontsize=9.2)
    for y, s in zip([0.857, 0.804, 0.752, 0.699, 0.646], stats):
        ax.text(0.975, y, s, transform=ax.transAxes, ha='right', va='center', fontsize=9.2)
    return ax


for i, gene in enumerate(GENES):
    stats = ['Logrank p=' + DFS_LOGRANK[i], 'HR(high)=' + DFS_HR[i], 'p(HR)=' + DFS_PHR[i],
             'n(high)=%d' % N_HIGH, 'n(low)=%d' % N_LOW]
    draw_panel(DFS_POS[i], 'Disease Free Survival', gene, stats, DFS_CURVES[i])
    stats = ['Logrank p=' + OS_LOGRANK[i], 'HR(high)=' + OS_HR[i], 'p(HR)=' + OS_PHR[i],
             'n(high)=%d' % N_HIGH, 'n(low)=%d' % N_LOW]
    draw_panel(OS_POS[i], 'Overall Survival', gene, stats, OS_CURVES[i])

fig.text(12 / W, 1 - 20 / H, 'A', fontsize=28, fontweight='bold', family='Liberation Serif',
         ha='center', va='center')
fig.text(12 / W, 1 - 864 / H, 'B', fontsize=28, fontweight='bold', family='Liberation Serif',
         ha='center', va='center')

fig.savefig('out.png', dpi=100, facecolor='white')
